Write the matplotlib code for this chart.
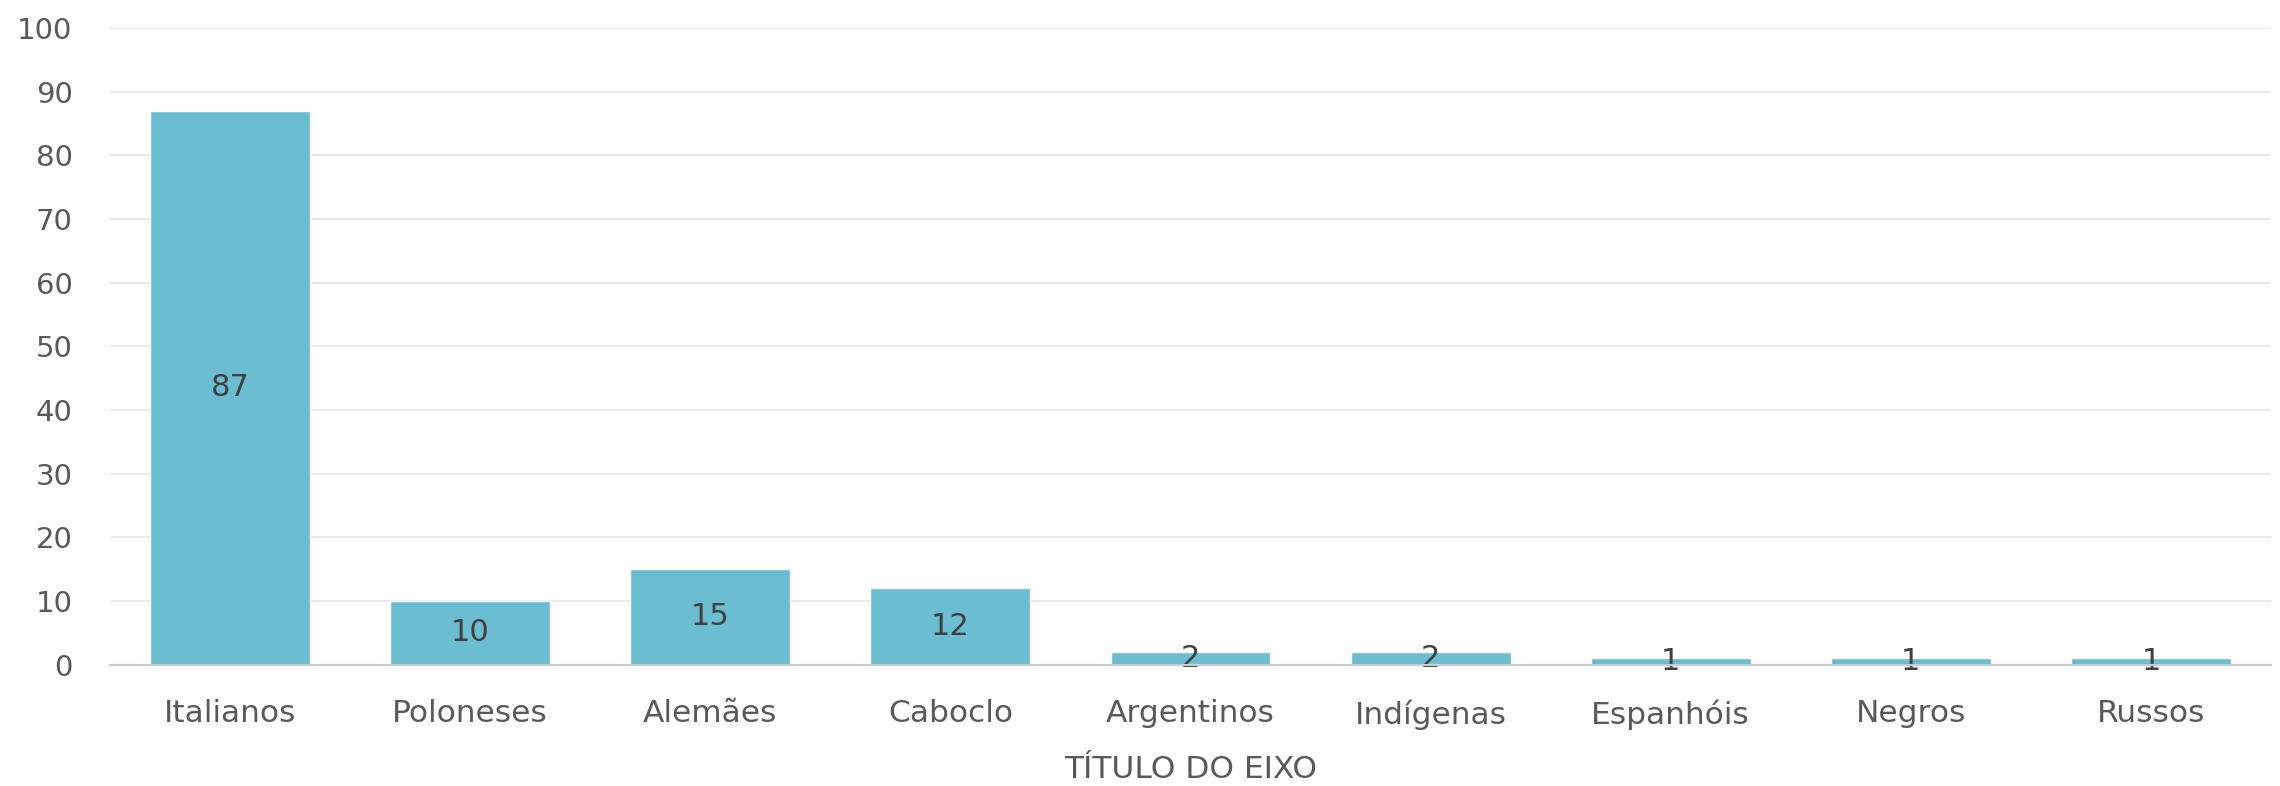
import matplotlib
matplotlib.use("Agg")
import matplotlib.pyplot as plt

categories = ["Italianos", "Poloneses", "Alemães", "Caboclo", "Argentinos",
              "Indígenas", "Espanhóis", "Negros", "Russos"]
values = [87, 10, 15, 12, 2, 2, 1, 1, 1]
y_ticks = [0, 10, 20, 30, 40, 50, 60, 70, 80, 90, 100]
axis_title = "TÍTULO DO EIXO"

plt.rcParams['font.family'] = ['DejaVu Sans']

fig = plt.figure(figsize=(22.8, 7.86), dpi=100)
ax = fig.add_axes([110/2280, 1-664.5/786, (2271-110)/2280, (664.5-28)/786])

x = list(range(len(categories)))
ax.bar(x, values, width=0.666, color='#6BBDD2', edgecolor='white', linewidth=1, zorder=3)

for xi, v in zip(x, values):
    ax.text(xi, v/2, str(v), ha='center', va='center', fontsize=22, color='#404040', zorder=4)

ax.set_xlim(-0.5, len(categories)-0.5)
ax.set_ylim(0, 100)
ax.set_yticks(y_ticks)
ax.set_yticklabels([str(t) for t in y_ticks])
ax.set_xticks(x)
ax.set_xticklabels(categories)
ax.tick_params(axis='y', length=0, pad=27, labelsize=21, labelcolor='#595959')
ax.tick_params(axis='x', length=0, pad=25, labelsize=22.5, labelcolor='#595959')
ax.grid(axis='y', color='#e6e6e6', linewidth=1.2, zorder=0)
for s in ['top', 'right', 'left']:
    ax.spines[s].set_visible(False)
ax.spines['bottom'].set_color('#cccccc')
ax.spines['bottom'].set_linewidth(1.5)
ax.spines['bottom'].set_zorder(5)
ax.set_xlabel(axis_title, fontsize=22.5, color='#595959', labelpad=18)

fig.savefig("out.png", dpi=100)
